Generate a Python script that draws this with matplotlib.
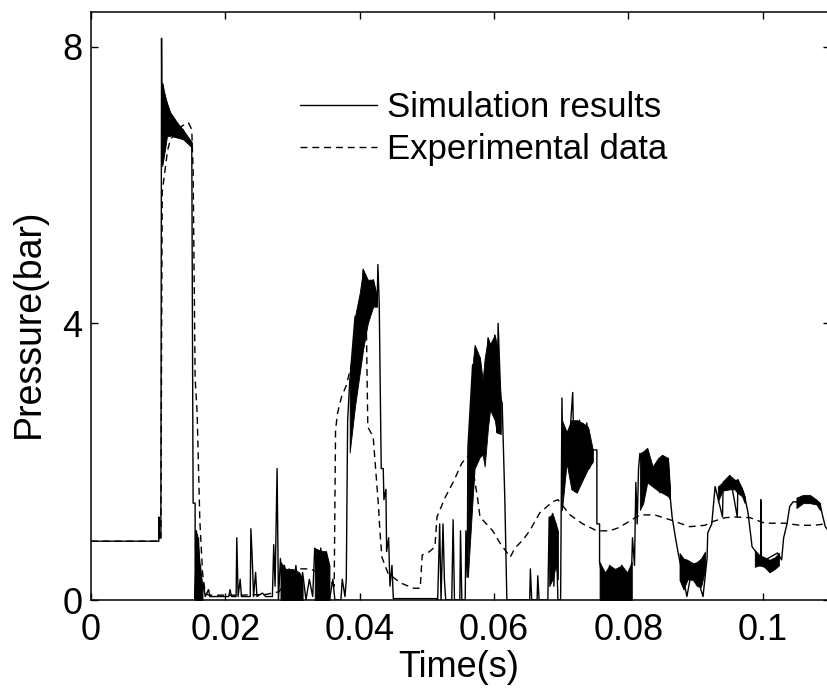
import numpy as np
import matplotlib
matplotlib.use('Agg')
import matplotlib.pyplot as plt

plt.rcParams['font.family'] = ['Liberation Sans', 'DejaVu Sans']

# ---- data (time in units of 10 ms, pressure in bar) ----
sim_t = [0, 1.01, 1.01, 1.02, 1.04, 1.05, 1.06, 1.07, 1.10, 1.13, 1.18, 1.22, 1.30, 1.37,
         1.44, 1.50, 1.52, 1.55, 1.55, 1.57, 1.59, 1.60, 1.62, 1.63, 1.65, 1.67, 1.70, 1.75,
         1.77, 2.05, 2.07, 2.09, 2.16, 2.17, 2.19, 2.22, 2.24, 2.37, 2.38, 2.40, 2.42, 2.45,
         2.47, 2.55, 2.60, 2.70, 2.72, 2.74, 2.77, 2.79, 2.82, 2.85, 2.88, 2.92, 2.95, 3.00,
         3.05, 3.10, 3.15, 3.20, 3.25, 3.30, 3.33, 3.38, 3.42, 3.46, 3.50, 3.55, 3.60, 3.63,
         3.72, 3.74, 3.78, 3.80, 3.82, 3.85, 3.93, 4.00, 4.05, 4.12, 4.20, 4.26, 4.27, 4.29,
         4.32, 4.35, 4.36, 4.39, 4.40, 4.43, 4.45, 4.48, 4.50, 5.15, 5.16, 5.19, 5.21, 5.24,
         5.26, 5.28, 5.37, 5.39, 5.41, 5.49, 5.50, 5.52, 5.57, 5.58, 5.60, 5.61, 5.68, 5.71,
         5.79, 5.83, 5.91, 5.94, 6.01, 6.04, 6.06, 6.10, 6.12, 6.16, 6.19, 6.53, 6.54, 6.56,
         6.64, 6.65, 6.67, 6.80, 6.82, 6.84, 6.87, 6.89, 6.92, 6.95, 6.99, 7.01, 7.03, 7.08,
         7.10, 7.17, 7.20, 7.27, 7.32, 7.38, 7.42, 7.47, 7.53, 7.53, 7.57, 7.57, 7.65, 7.72,
         7.80, 7.90, 8.00, 8.05, 8.06, 8.09, 8.11, 8.13, 8.15, 8.17, 8.27, 8.36, 8.47, 8.59,
         8.62, 8.65, 8.70, 8.74, 8.87, 8.96, 9.11, 9.17, 9.18, 9.24, 9.29, 9.40, 9.41, 9.51,
         9.62, 9.63, 9.73, 9.78, 9.84, 9.97, 9.97, 9.98, 10.22, 10.28, 10.31, 10.36, 10.40,
         10.45, 10.85, 10.88, 10.93, 11.0]
sim_p = [0.85, 0.85, 1.2, 0.9, 0.9, 8.12, 6.3, 7.45, 6.5, 7.19, 6.7, 6.99, 6.75, 6.8,
         6.6, 6.6, 1.4, 1.4, 0.0, 1.0, 0.1, 0.9, 0.2, 0.5, 0.0, 0.25, 0.05, 0.15,
         0.05, 0.05, 0.15, 0.05, 0.05, 0.9, 0.05, 0.3, 0.05, 0.05, 1.03, 0.6, 0.05, 0.4,
         0.05, 0.1, 0.05, 0.05, 0.8, 0.2, 1.9, 0.0, 0.6, 0.1, 0.5, 0.0, 0.45, 0.1,
         0.5, 0.05, 0.4, 0.0, 0.3, 0.05, 0.75, 0.1, 0.75, 0.2, 0.7, 0.0, 0.3, 0.0,
         0.0, 0.3, 0.05, 0.3, 2.6, 3.14, 4.1, 3.3, 4.78, 4.0, 4.63, 4.3, 4.85, 4.3,
         1.9, 1.9, 1.45, 1.6, 0.7, 0.9, 0.2, 0.5, 0.02, 0.02, 0.0, 1.1, 0.0, 1.1,
         0.3, 0.0, 0.0, 1.16, 0.0, 0.0, 1.0, 0.0, 0.0, 1.0, 0.33, 2.2, 3.4, 2.0,
         3.5, 2.1, 3.79, 2.75, 3.83, 2.42, 4.0, 2.9, 2.85, 1.45, 0.0, 0.0, 0.45, 0.0,
         0.0, 0.35, 0.0, 0.0, 1.2, 0.25, 1.25, 0.2, 1.1, 0.0, 0.0, 2.92, 1.5, 2.43,
         1.98, 3.0, 1.6, 2.6, 1.74, 2.56, 1.9, 2.17, 2.17, 1.1, 1.1, 0.55, 0.1, 0.5,
         0.05, 0.5, 0.1, 0.55, 0.9, 0.5, 1.7, 1.1, 1.9, 2.12, 1.7, 1.93, 1.55, 2.05,
         1.5, 1.2, 0.9, 0.68, 0.05, 0.53, 0.05, 0.6, 0.97, 1.1, 1.64, 1.2, 1.7, 1.8,
         1.2, 1.74, 1.5, 1.26, 0.77, 0.6, 1.45, 0.55, 0.68, 0.58, 0.9, 1.1, 1.35,
         1.42, 1.4, 1.26, 1.06, 0.97]

# dense oscillation bursts of the simulation: (time, lower, upper)
sim_bursts = {
    'pulse1': ([1.06, 1.10, 1.13, 1.18, 1.22, 1.30, 1.37, 1.44, 1.50],
               [6.27, 6.5, 6.7, 6.72, 6.7, 6.68, 6.66, 6.6, 6.54],
               [7.48, 7.3, 7.19, 7.05, 6.99, 6.88, 6.8, 6.7, 6.62]),
    'drop1': ([1.55, 1.58, 1.62, 1.66], [0, 0, 0, 0], [1.0, 0.95, 0.5, 0.2]),
    'low1': ([2.82, 2.90, 3.00, 3.10, 3.15], [0, 0, 0, 0, 0], [0.55, 0.45, 0.45, 0.4, 0.3]),
    'low2': ([3.33, 3.40, 3.50, 3.55], [0, 0, 0, 0], [0.75, 0.72, 0.7, 0.5]),
    'pulse2': ([3.85, 3.93, 4.00, 4.05, 4.12, 4.20, 4.26],
               [2.13, 2.8, 3.28, 3.62, 4.0, 4.24, 4.24],
               [3.14, 4.1, 4.44, 4.78, 4.63, 4.63, 4.38]),
    'pulse3': ([5.61, 5.68, 5.71, 5.79, 5.83, 5.86, 5.91, 5.94, 6.01, 6.04, 6.10],
               [0.33, 1.45, 1.9, 2.07, 2.1, 1.93, 2.5, 2.75, 2.6, 2.42, 2.4],
               [2.2, 3.4, 3.69, 3.5, 3.18, 3.5, 3.79, 3.7, 3.83, 3.7, 2.9]),
    'pre4': ([6.82, 6.87, 6.92, 6.95], [0.2, 0.3, 0.5, 0.3], [1.2, 1.25, 1.1, 1.0]),
    'pulse4': ([7.01, 7.08, 7.15, 7.23, 7.32, 7.40, 7.47],
               [1.3, 1.98, 1.6, 1.55, 1.74, 1.9, 2.0],
               [2.6, 2.43, 2.6, 2.6, 2.56, 2.5, 2.17]),
    'valley4': ([7.57, 7.65, 7.72, 7.80, 7.90, 7.98, 8.05], [0] * 7,
                [0.55, 0.4, 0.5, 0.45, 0.5, 0.4, 0.55]),
    'pulse5': ([8.17, 8.22, 8.28, 8.36, 8.44, 8.50, 8.59, 8.62],
               [1.3, 1.4, 1.7, 1.64, 1.58, 1.55, 1.5, 1.45],
               [2.12, 2.15, 2.2, 1.93, 2.05, 2.1, 2.05, 1.6]),
    'valley5': ([8.76, 8.82, 8.88, 8.96, 9.02, 9.08, 9.14],
                [0.29, 0.15, 0.3, 0.29, 0.2, 0.19, 0.43],
                [0.68, 0.6, 0.58, 0.53, 0.55, 0.6, 0.7]),
    'pulse6': ([9.33, 9.40, 9.51, 9.58, 9.62, 9.69, 9.73],
               [1.42, 1.58, 1.6, 1.6, 1.55, 1.5, 1.4],
               [1.64, 1.7, 1.8, 1.74, 1.74, 1.62, 1.5]),
    'valley6': ([9.88, 9.95, 10.02, 10.10, 10.18, 10.24],
                [0.48, 0.5, 0.48, 0.4, 0.45, 0.5],
                [0.72, 0.65, 0.62, 0.58, 0.62, 0.68]),
    'pulse7': ([10.50, 10.60, 10.70, 10.80, 10.85],
               [1.33, 1.4, 1.4, 1.38, 1.3],
               [1.48, 1.52, 1.52, 1.45, 1.4]),
}

exp_t = [0, 1.01, 1.04, 1.05, 1.06, 1.10, 1.14, 1.18, 1.25, 1.35, 1.45, 1.50, 1.52, 1.55,
         1.58, 1.62, 1.66, 1.70, 1.75, 2.20, 2.60, 2.80, 2.95, 3.10, 3.25, 3.40, 3.55, 3.62,
         3.64, 3.67, 3.73, 3.80, 3.90, 4.00, 4.10, 4.12, 4.20, 4.26, 4.28, 4.30, 4.33, 4.42,
         4.60, 4.80, 4.90, 4.93, 5.04, 5.12, 5.15, 5.27, 5.40, 5.52, 5.60, 5.65, 5.75, 5.79,
         5.98, 6.09, 6.24, 6.31, 6.43, 6.53, 6.68, 6.87, 6.95, 7.13, 7.32, 7.53, 7.72, 7.84,
         7.95, 8.17, 8.39, 8.62, 8.91, 9.14, 9.24, 9.44, 9.58, 9.81, 10.03, 10.33, 10.55,
         10.77, 11.0]
exp_p = [0.85, 0.85, 0.9, 3.5, 5.9, 6.2, 6.5, 6.65, 6.75, 6.85, 6.9, 6.8, 6.2, 3.2,
         2.7, 1.15, 0.4, 0.1, 0.07, 0.07, 0.08, 0.12, 0.35, 0.45, 0.45, 0.4, 0.3, 0.2,
         2.46, 2.7, 2.94, 3.1, 3.5, 3.85, 3.9, 2.5, 2.36, 1.6, 1.35, 1.0, 0.62, 0.39,
         0.25, 0.17, 0.17, 0.65, 0.7, 0.77, 1.2, 1.48, 1.72, 1.98, 2.07, 2.1, 1.5, 1.2,
         1.0, 0.82, 0.62, 0.75, 0.87, 1.0, 1.26, 1.42, 1.45, 1.23, 1.1, 1.0, 1.0, 1.04,
         1.1, 1.23, 1.23, 1.16, 1.06, 1.08, 1.13, 1.19, 1.2, 1.19, 1.11, 1.11, 1.08,
         1.08, 1.11]

x_ticks = [0, 0.02, 0.04, 0.06, 0.08, 0.1]
x_tick_labels = ['0', '0.02', '0.04', '0.06', '0.08', '0.1']
y_ticks = [0, 4, 8]
y_tick_labels = ['0', '4', '8']

# ---- figure ----
fig = plt.figure(figsize=(8.28, 6.93), dpi=100)
ax = fig.add_axes([91 / 828, 93 / 693, 739 / 828, 588 / 693])

for t, lo, hi in sim_bursts.values():
    ax.fill_between(np.array(t) / 100, lo, hi, color='k', lw=0.6, edgecolor='k')
ax.plot(np.array(sim_t) / 100, sim_p, 'k-', lw=1.0, label='Simulation results')
ax.plot(np.array(exp_t) / 100, exp_p, 'k--', lw=1.0, dashes=(5, 3.5),
        label='Experimental data')

ax.set_xlim(0, 0.11)
ax.set_ylim(0, 8.5)
ax.set_xticks(x_ticks)
ax.set_xticklabels(x_tick_labels)
ax.set_yticks(y_ticks)
ax.set_yticklabels(y_tick_labels)
ax.tick_params(direction='in', length=5, width=1, labelsize=26,
               top=True, right=True, pad=6)
ax.tick_params(axis='x', pad=9)
for s in ax.spines.values():
    s.set_linewidth(1.1)

ax.set_xlabel('Time(s)', fontsize=26)
ax.set_ylabel('Pressure(bar)', fontsize=27)
ax.xaxis.set_label_coords(0.497, -0.085)
ax.yaxis.set_label_coords(-0.06, 0.47)

ax.legend(loc='upper left', bbox_to_anchor=(0.283, 0.865), frameon=False,
          fontsize=25, handlelength=2.2, handletextpad=0.3, labelspacing=0.25,
          borderpad=0, borderaxespad=0)

fig.savefig('out.png', dpi=100)
